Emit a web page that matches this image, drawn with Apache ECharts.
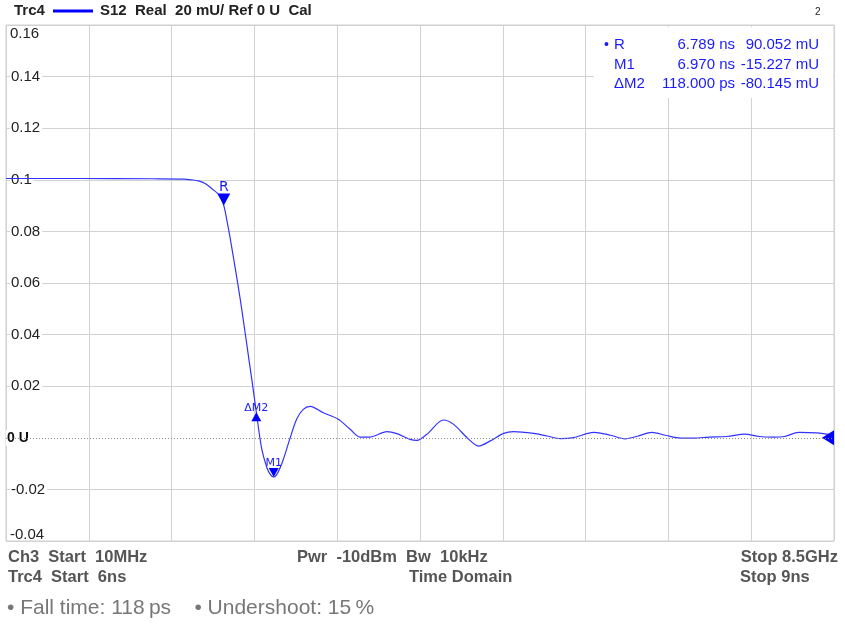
<!DOCTYPE html>
<html><head><meta charset="utf-8">
<script src="https://cdn.jsdelivr.net/npm/echarts@6/dist/echarts.min.js"></script>
<style>html,body{margin:0;padding:0;background:#fff}#c{width:845px;height:625px}</style>
</head><body><div id="c"></div>
<script>
// time axis (ns) and real part of S12 (U)
const times = [6.000, 6.266, 6.529, 6.645, 6.670, 6.697, 6.723, 6.749, 6.775, 6.789, 6.800, 6.812, 6.831, 6.849, 6.866, 6.884, 6.896, 6.907, 6.926, 6.945, 6.958, 6.970, 6.985, 7.005, 7.029, 7.053, 7.077, 7.102, 7.150, 7.204, 7.247, 7.283, 7.319, 7.380, 7.416, 7.464, 7.489, 7.525, 7.585, 7.622, 7.670, 7.712, 7.755, 7.803, 7.839, 7.912, 7.960, 8.009, 8.057, 8.130, 8.190, 8.243, 8.288, 8.340, 8.392, 8.444, 8.495, 8.548, 8.612, 8.677, 8.729, 8.781, 8.820, 8.872, 8.936, 9.000];
const values = [0.1005, 0.1005, 0.1004, 0.1003, 0.1000, 0.0996, 0.0985, 0.0963, 0.0938, 0.0901, 0.0845, 0.0775, 0.0655, 0.0535, 0.0410, 0.0275, 0.0185, 0.0099, -0.0040, -0.0115, -0.0143, -0.0152, -0.0135, -0.0083, -0.0002, 0.0072, 0.0110, 0.0122, 0.0097, 0.0072, 0.0033, 0.0003, 0.0003, 0.0024, 0.0016, -0.0006, -0.0010, 0.0014, 0.0069, 0.0052, 0.0001, -0.0032, -0.0012, 0.0017, 0.0024, 0.0017, 0.0007, -0.0003, 0.0001, 0.0021, 0.0010, -0.0004, 0.0006, 0.0021, 0.0009, -0.0001, -0.0001, 0.0003, 0.0005, 0.0014, 0.0005, 0.0003, 0.0005, 0.0021, 0.0019, 0.0010];

// y ticks and labels
const yTicks = [-0.04, -0.02, 0, 0.02, 0.04, 0.06, 0.08, 0.1, 0.12, 0.14, 0.16];
const yTickLabels = ['-0.04', '-0.02', '0 U', '0.02', '0.04', '0.06', '0.08', '0.1', '0.12', '0.14', '0.16'];

// markers
const markerNames = ['R', 'M1', '\u0394M2'];
const markerTimes = [6.789, 6.970, 6.907];
const markerValues = [0.090052, -0.015227, 0.009907];
const markerTimeText = ['6.789 ns', '6.970 ns', '118.000 ps'];
const markerValueText = ['90.052 mU', '-15.227 mU', '-80.145 mU'];

// header / footer texts
const headerTrace = 'Trc4';
const headerInfo = 'S12  Real  20 mU/ Ref 0 U  Cal';
const footerRow1 = ['Ch3  Start  10MHz', 'Pwr  -10dBm  Bw  10kHz', 'Stop 8.5GHz'];
const footerRow2 = ['Trc4  Start  6ns', 'Time Domain', 'Stop 9ns'];
const footerNote = '\u2022 Fall time: 118\u2009ps    \u2022 Undershoot: 15\u2009%';

const BLUE = '#1a1aff';
const FONT = '"Liberation Sans", Arial, sans-serif';

const chart = echarts.init(document.getElementById('c'), null, {renderer: 'canvas'});

const gridColors = yTicks.map(v => v === 0 ? 'rgba(0,0,0,0)' : '#d2d2d2');

const markPts = markerNames.map((n, i) => {
  const up = n.indexOf('\u0394') === 0;
  const isR = n === 'R';
  return {
    coord: [markerTimes[i], markerValues[i]],
    symbol: 'triangle',
    symbolSize: isR ? [13, 12] : [10, 9],
    symbolRotate: up ? 0 : 180,
    symbolOffset: up ? [0, 4.5] : [0, isR ? -6 : -4.5],
    itemStyle: {color: '#0000ff'},
    label: {
      show: true, formatter: n, position: 'top',
      offset: up ? [0, 1] : [0, 1],
      distance: 0,
      color: BLUE,
      fontFamily: '"DejaVu Sans", Verdana, sans-serif',
      fontSize: isR ? 14 : 11
    }
  };
});
markPts.push({
  coord: [9, 0], symbol: 'triangle', symbolSize: [15, 12], symbolRotate: 90,
  symbolOffset: [-6, 0], itemStyle: {color: '#0000ff'}, label: {show: false}
});

const graphics = [];
graphics.push({type: 'text', left: 14, top: 3, style: {text: headerTrace, font: 'bold 15px ' + FONT, fill: '#222'}});
graphics.push({type: 'line', shape: {x1: 53, y1: 11, x2: 93, y2: 11}, style: {stroke: '#0000ff', lineWidth: 3}});
graphics.push({type: 'text', left: 100, top: 3, style: {text: headerInfo, font: 'bold 15px ' + FONT, fill: '#222'}});
graphics.push({type: 'text', left: 815, top: 7, style: {text: '2', font: '10px ' + FONT, fill: '#222'}});

// marker table
graphics.push({type: 'rect', shape: {x: 594, y: 27, width: 239, height: 71}, style: {fill: '#fff'}, z: 50});
const rowY = [45, 65, 84];
markerNames.forEach((n, i) => {
  if (i === 0) graphics.push({type: 'text', z: 51, style: {x: 604, y: rowY[i], text: '\u2022', font: '14px ' + FONT, fill: BLUE, textVerticalAlign: 'middle'}});
  graphics.push({type: 'text', z: 51, style: {x: 614, y: rowY[i], text: n, font: '15px ' + FONT, fill: BLUE, textVerticalAlign: 'middle'}});
  graphics.push({type: 'text', z: 51, style: {x: 735, y: rowY[i], text: markerTimeText[i], font: '15px ' + FONT, fill: BLUE, textAlign: 'right', textVerticalAlign: 'middle'}});
  graphics.push({type: 'text', z: 51, style: {x: 819, y: rowY[i], text: markerValueText[i], font: '15px ' + FONT, fill: BLUE, textAlign: 'right', textVerticalAlign: 'middle'}});
});

// footer
const fx = [8, 297, 838];
const fx2 = [8, 409, 740];
footerRow1.forEach((t, i) => graphics.push({type: 'text', style: {x: fx[i], y: 557, text: t, font: 'bold 16.5px ' + FONT, fill: '#555', textAlign: i === 2 ? 'right' : 'left', textVerticalAlign: 'middle'}}));
footerRow2.forEach((t, i) => graphics.push({type: 'text', style: {x: fx2[i], y: 577, text: t, font: 'bold 16.5px ' + FONT, fill: '#555', textVerticalAlign: 'middle'}}));
graphics.push({type: 'text', style: {x: 7, y: 608, text: footerNote, font: '21px ' + FONT, fill: '#777', textVerticalAlign: 'middle'}});

const option = {
  animation: false,
  backgroundColor: '#fff',
  grid: {left: 6, top: 25, right: 11, bottom: 84, show: true, borderColor: '#cfcfcf', borderWidth: 1},
  xAxis: {
    type: 'value', min: 6, max: 9, interval: 0.3,
    axisLabel: {show: false}, axisTick: {show: false}, axisLine: {show: false},
    splitLine: {show: true, lineStyle: {color: '#d2d2d2', width: 1}}
  },
  yAxis: {
    type: 'value', min: -0.04, max: 0.16, interval: 0.02,
    axisTick: {show: false}, axisLine: {show: false},
    splitLine: {show: true, lineStyle: {color: gridColors, width: 1}},
    axisLabel: {
      inside: true, margin: 0,
      formatter: function (v) {
        let idx = yTicks.findIndex(t => Math.abs(t - v) < 1e-9);
        if (idx < 0) return '';
        const lab = yTickLabels[idx];
        if (yTicks[idx] === 0) return '{z|' + lab + '}';
        if (idx === yTicks.length - 1) return '{g| }{top|' + lab + '}';
        if (idx === 0) return '{g| }{bot|' + lab + '}';
        return '{g| }{n|' + lab + '}';
      },
      rich: {
        g: {width: 4, fontSize: 15},
        n: {fontSize: 15, fontFamily: FONT, color: '#222', backgroundColor: '#fff', padding: [1, 2, 1, 1]},
        top: {fontSize: 15, fontFamily: FONT, color: '#222', padding: [18, 0, 0, 0]},
        bot: {fontSize: 15, fontFamily: FONT, color: '#222', padding: [0, 0, 12, 0]},
        z: {fontSize: 14, fontFamily: FONT, fontWeight: 'bold', color: '#111', backgroundColor: '#fff', padding: [1, 2, 1, 1]}
      }
    }
  },
  series: [{
    type: 'line',
    data: times.map((t, i) => [t, values[i]]),
    showSymbol: false,
    smooth: 0.3,
    lineStyle: {color: '#3333ff', width: 1.2},
    z: 3,
    markLine: {
      silent: true, symbol: 'none', label: {show: false},
      lineStyle: {color: '#8a8a8a', type: [1, 2], width: 1},
      data: [{yAxis: 0}]
    },
    markPoint: {data: markPts, z: 4}
  }],
  graphic: graphics
};
chart.setOption(option);
</script>
</body></html>
